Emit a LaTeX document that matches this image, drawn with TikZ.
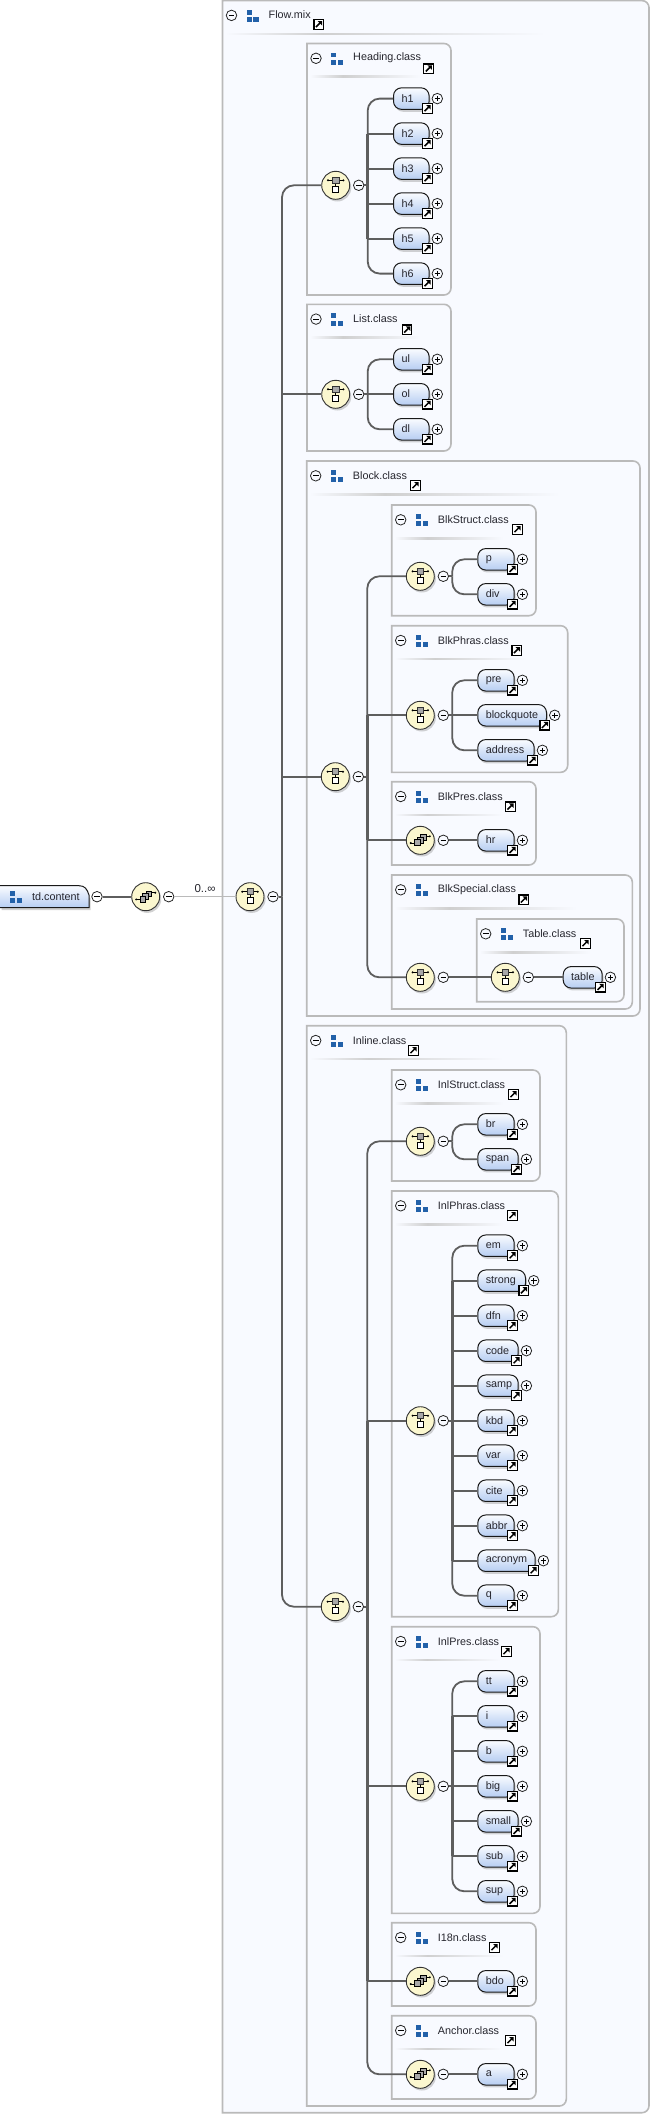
\documentclass[tikz,border=0pt]{standalone}
\usepackage{fontspec}
\setmainfont{Liberation Sans}
\usetikzlibrary{shadows}
\definecolor{flowbg}{HTML}{F8FAFF}
\definecolor{framegrey}{HTML}{BABABA}
\definecolor{conngrey}{HTML}{5E5E5E}
\definecolor{iconblue}{HTML}{2261A9}
\definecolor{symfill}{HTML}{FBF7CF}
\definecolor{eltop}{HTML}{FAFCFF}
\definecolor{elbot}{HTML}{B6CDF2}
\definecolor{inkdark}{HTML}{26262E}
\definecolor{sepgrey}{HTML}{CFCFCF}
\definecolor{glyphgrey}{HTML}{A8A8A8}
\pgfdeclarehorizontalshading{sepfade}{100bp}{color(0bp)=(flowbg); color(25bp)=(flowbg); color(40bp)=(sepgrey); color(50bp)=(sepgrey!70!flowbg); color(75bp)=(flowbg); color(100bp)=(flowbg)}
\tikzset{
  x=1pt,y=-1pt,
  frameline/.style={draw=framegrey,line width=1.6pt,fill=flowbg},
  conn/.style={draw=conngrey,line width=1.8pt},
  connrail/.style={conn,rounded corners=12pt},
  railthick/.style={draw=conngrey,line width=2.5pt},
  thickconn/.style={draw=conngrey,line width=2.2pt},
  thinconn/.style={draw=framegrey,line width=.9pt},
  ttl/.style={font=\fontsize{10.8}{12}\selectfont,text=inkdark,inner sep=0pt,anchor=west},
  ctl/.style={circle,draw=black!85,line width=.8pt,minimum size=10.5pt,inner sep=0pt},
  ctlminus/.style={ctl,path picture={\draw[black,line width=.9pt] (-2.8,0)--(2.8,0);}},
  ctlplus/.style={ctl,path picture={\draw[black,line width=.9pt] (-2.8,0)--(2.8,0) (0,-2.8)--(0,2.8);}},
  linkbox/.style={rectangle,draw=black,line width=1.2pt,fill=white,minimum size=9.6pt,inner sep=0pt,
    path picture={\draw[black,line width=1.5pt] (-2.8,2.8)--(1.5,-1.5);\fill[black] (-1.2,-3.3)--(3.3,-3.3)--(3.3,1.2)--cycle;}},
  symbase/.style={circle,draw=black!80,line width=.9pt,fill=symfill,minimum size=28pt,inner sep=0pt,
    drop shadow={shadow xshift=1.6pt,shadow yshift=-2.2pt,fill=black!35,opacity=.5}},
  seqsym/.style={symbase,path picture={
    \draw[black,line width=.8pt] (-7.7,-5)--(7.7,-5) (0,-3)--(0,1);
    \fill[black] (-7.7,-5) circle (1.1) (7.7,-5) circle (1.1);
    \filldraw[fill=glyphgrey,draw=black!80,line width=.5pt] (-3.2,-8.2)rectangle(3.2,-2);
    \filldraw[fill=white,draw=black,line width=1pt] (-3,1)rectangle(3,7.2);}},
  choicesym/.style={symbase,path picture={
    \draw[black,line width=.8pt] (-10,2.7)--(-5,2.7) (5,-4)--(10,-4);
    \fill[black] (-9.5,2.7) circle (1.1) (9.5,-4) circle (1.1);
    \filldraw[fill=glyphgrey,draw=black,line width=.6pt] (0.3,-5.7)rectangle(5.7,0);
    \filldraw[fill=glyphgrey,draw=black,line width=.6pt] (-3,-3.3)rectangle(2.6,2.7);
    \filldraw[fill=glyphgrey,draw=black,line width=.6pt] (-5.7,-0.7)rectangle(-0.3,5.3);}},
  elem/.style={rectangle,rounded corners=8pt,draw=black!90,line width=1pt,top color=eltop,bottom color=elbot,
    minimum height=21.5pt,inner ysep=0pt,inner xsep=8pt,align=left,anchor=west,
    font=\fontsize{10.8}{12}\selectfont,text=inkdark,
    drop shadow={shadow xshift=1.4pt,shadow yshift=-2.4pt,fill=black!35,opacity=.5}},
}
% class icon: three blue squares
\newcommand\clsicon[2]{%
  \fill[iconblue] (#1-6,#2-6) rectangle +(5.2,4.9);
  \fill[iconblue] (#1-6,#2+1.4) rectangle +(5.2,4.9);
  \fill[iconblue] (#1+0.8,#2+1.4) rectangle +(5.2,4.9);}
% group frame: name, L, T, R, B, title, link x, link y, separator end
\newcommand\grp[9]{%
  \draw[frameline] (#2,#3) [rounded corners=7pt] -- (#4,#3) -- (#4,#5) [sharp corners] -- (#2,#5) -- cycle;
  \node[ctlminus] (#1m) at (#2+9,#3+14.8) {};
  \clsicon{#2+30}{#3+15}
  \node[ttl] (#1t) at (#2+46,#3+14.5) {#6};
  \node[linkbox] (#1l) at (#7,#8) {};
  \shade[shading=sepfade] (#2+3,#3+32.4) rectangle (#9,#3+34);}
% compositor symbol: name, style, x, y
\newcommand\symb[4]{%
  \node[#2] (#1) at (#3,#4) {};
  \node[ctlminus] (#1m) at (#3+23,#4) {};
  \coordinate (#1b) at (#3+32,#4);}
% element: name, text, left, right, y
\newcommand\elt[5]{%
  \pgfmathsetmacro\eltfull{#4-#3}%
  \pgfmathsetmacro\elttext{#4-#3-16}%
  \node[elem,minimum width=\eltfull pt,text width=\elttext pt] (#1) at (#3,#5) {\raisebox{0.7pt}{#2}};
  \node[linkbox] (#1l) at (#4-1.3,#5+9.8) {};
  \node[ctlplus] (#1p) at (#4+8.7,#5) {};}
\newcommand\tee[2]{\draw[conn] (#1 |- #2.west) -- (#2.west);}
\newcommand\bend[2]{\draw[connrail] (#1) |- (#2.west);}
\newcommand\stub[1]{\draw[conn] (#1m.east) -- (#1b);}
\newcommand\rail[3]{\draw[railthick] (#1 |- #2.west) -- (#1 |- #3.west);}
\begin{document}
\begin{tikzpicture}
\useasboundingbox (0,0) rectangle (650,2115);
% frames
\grp{flow}{222.5}{0.6}{649}{2112.7}{Flow.mix}{318.7}{24.3}{545}
\grp{head}{307}{43.5}{451}{295}{Heading.class}{428.6}{68.7}{420}
\grp{list}{307}{304.3}{451}{451}{List.class}{407}{329.7}{420}
\grp{block}{306.7}{461}{640}{1016}{Block.class}{415.3}{485.3}{560}
\grp{bstruct}{391.7}{505}{536}{615.7}{BlkStruct.class}{517.3}{529.3}{503}
\grp{bphras}{391.7}{625.7}{567.7}{772.3}{BlkPhras.class}{516.7}{650.3}{527}
\grp{bpres}{391.7}{781.7}{536}{865}{BlkPres.class}{510.3}{806.7}{503}
\grp{bspec}{391.7}{875}{632.3}{1009}{BlkSpecial.class}{523.7}{899.7}{577}
\grp{tabl}{476.7}{919}{624}{1001.7}{Table.class}{585.3}{943.3}{590}
\grp{inl}{306.7}{1025.7}{566.3}{2106}{Inline.class}{413.3}{1050.3}{503}
\grp{istruct}{391.7}{1070}{540}{1181}{InlStruct.class}{513.3}{1094.3}{503}
\grp{iphras}{391.7}{1191}{558.3}{1616.7}{InlPhras.class}{512.3}{1215.3}{503}
\grp{ipres}{391.7}{1626.7}{540}{1913.3}{InlPres.class}{506.3}{1651.3}{500}
\grp{ieight}{391.7}{1922.7}{536}{2006}{I18n.class}{494.3}{1947.3}{503}
\grp{ianch}{391.7}{2015.7}{536}{2099}{Anchor.class}{510.3}{2040.3}{503}
% root element
\fill[black!35,opacity=.5] (1.5,889) -- (90.5,898) -- (90.5,910) -- (1.5,910) -- cycle;
\draw[draw=black!90,line width=1pt,top color=eltop,bottom color=elbot] (-1,885.7) -- (79,885.7) .. controls (85,885.7) and (87,889) .. (89,895) -- (89,907.7) -- (-1,907.7) -- cycle;
\node[inner sep=0pt,minimum width=89pt,minimum height=22pt,anchor=west] (td) at (0,896.7) {};
\clsicon{16}{897}
\node[ttl] (tdt) at (32,896.4) {td.content};
\node[ctlminus] (tdm) at (97,896.7) {};
% compositors
\symb{top}{choicesym}{145.7}{896.7}
\symb{outer}{seqsym}{250}{896.7}
\symb{shead}{seqsym}{335.7}{185.3}
\symb{slist}{seqsym}{335.7}{394.3}
\symb{sblock}{seqsym}{335.3}{776.7}
\symb{sbstruct}{seqsym}{420.3}{576.3}
\symb{sbphras}{seqsym}{420.3}{715.3}
\symb{sbpres}{choicesym}{420.3}{840.3}
\symb{sbspec}{seqsym}{420.3}{977.3}
\symb{stabl}{seqsym}{505.3}{977.3}
\symb{sinl}{seqsym}{335.3}{1606.7}
\symb{sistruct}{seqsym}{420.3}{1141.3}
\symb{siphras}{seqsym}{420.3}{1420.7}
\symb{sipres}{seqsym}{420.3}{1786.3}
\symb{sieight}{choicesym}{420.3}{1981.3}
\symb{sianch}{choicesym}{420.3}{2074.3}
% elements
\elt{hA}{h1}{393}{428.6}{98.6}
\elt{hB}{h2}{393}{428.6}{133.6}
\elt{hC}{h3}{393}{428.6}{168.6}
\elt{hD}{h4}{393}{428.6}{203.6}
\elt{hE}{h5}{393}{428.6}{238.6}
\elt{hF}{h6}{393}{428.6}{273.6}
\elt{ul}{ul}{393}{428.6}{359.3}
\elt{ol}{ol}{393}{428.6}{394.3}
\elt{dl}{dl}{393}{428.6}{429.3}
\elt{p}{p}{477.3}{513.7}{559.3}
\elt{div}{div}{477.3}{513.7}{594.3}
\elt{pre}{pre}{477.3}{513.7}{680.3}
\elt{bq}{blockquote}{477.3}{546}{715.3}
\elt{addr}{address}{477.3}{533.7}{750.3}
\elt{hr}{hr}{477.3}{513.7}{840.3}
\elt{table}{table}{562.7}{601.7}{977.3}
\elt{br}{br}{477.3}{513.7}{1124.3}
\elt{span}{span}{477.3}{517.7}{1159.3}
\elt{em}{em}{477.3}{513.7}{1245.7}
\elt{strong}{strong}{477.3}{525}{1280.7}
\elt{dfn}{dfn}{477.3}{513.7}{1315.7}
\elt{code}{code}{477.3}{517.7}{1350.7}
\elt{samp}{samp}{477.3}{517.7}{1385.7}
\elt{kbd}{kbd}{477.3}{513.7}{1420.7}
\elt{var}{var}{477.3}{513.7}{1455.7}
\elt{cite}{cite}{477.3}{513.7}{1490.7}
\elt{abbr}{abbr}{477.3}{513.7}{1525.7}
\elt{acronym}{acronym}{477.3}{534.7}{1560.7}
\elt{q}{q}{477.3}{513.7}{1595.7}
\elt{tt}{tt}{477.3}{513.7}{1681.3}
\elt{i}{i}{477.3}{513.7}{1716.3}
\elt{b}{b}{477.3}{513.7}{1751.3}
\elt{big}{big}{477.3}{513.7}{1786.3}
\elt{small}{small}{477.3}{517.7}{1821.3}
\elt{sub}{sub}{477.3}{513.7}{1856.3}
\elt{sup}{sup}{477.3}{513.7}{1891.3}
\elt{bdo}{bdo}{477.3}{513.7}{1981.3}
\elt{a}{a}{477.3}{513.7}{2074.3}
% cardinality label
\node[ttl,anchor=center,font=\fontsize{11.5}{12}\selectfont] (card) at (205,888.6) {0..∞};
% connectors
\draw[thickconn] (tdm.east) -- (top.west);
\draw[thinconn] (topm.east) -- (outer.west);
\stub{outer}
\bend{outerb}{shead}
\tee{outerb}{slist}
\tee{outerb}{sblock}
\bend{outerb}{sinl}
\rail{outerb}{slist}{sblock}
\stub{shead}
\bend{sheadb}{hA}
\tee{sheadb}{hB}
\tee{sheadb}{hC}
\tee{sheadb}{hD}
\tee{sheadb}{hE}
\bend{sheadb}{hF}
\rail{sheadb}{hB}{hE}
\stub{slist}
\bend{slistb}{ul}
\tee{slistb}{ol}
\bend{slistb}{dl}
\stub{sblock}
\bend{sblockb}{sbstruct}
\tee{sblockb}{sbphras}
\tee{sblockb}{sbpres}
\bend{sblockb}{sbspec}
\rail{sblockb}{sbphras}{sbpres}
\stub{sbstruct}
\bend{sbstructb}{p}
\bend{sbstructb}{div}
\stub{sbphras}
\bend{sbphrasb}{pre}
\tee{sbphrasb}{bq}
\bend{sbphrasb}{addr}
\draw[conn] (sbpresm.east) -- (hr.west);
\draw[conn] (sbspecm.east) -- (stabl.west);
\draw[conn] (stablm.east) -- (table.west);
\stub{sinl}
\bend{sinlb}{sistruct}
\tee{sinlb}{siphras}
\tee{sinlb}{sipres}
\tee{sinlb}{sieight}
\bend{sinlb}{sianch}
\rail{sinlb}{siphras}{sieight}
\stub{sistruct}
\bend{sistructb}{br}
\bend{sistructb}{span}
\stub{siphras}
\bend{siphrasb}{em}
\tee{siphrasb}{strong}
\tee{siphrasb}{dfn}
\tee{siphrasb}{code}
\tee{siphrasb}{samp}
\tee{siphrasb}{kbd}
\tee{siphrasb}{var}
\tee{siphrasb}{cite}
\tee{siphrasb}{abbr}
\tee{siphrasb}{acronym}
\bend{siphrasb}{q}
\rail{siphrasb}{strong}{acronym}
\stub{sipres}
\bend{sipresb}{tt}
\tee{sipresb}{i}
\tee{sipresb}{b}
\tee{sipresb}{big}
\tee{sipresb}{small}
\tee{sipresb}{sub}
\bend{sipresb}{sup}
\rail{sipresb}{i}{sub}
\draw[conn] (sieightm.east) -- (bdo.west);
\draw[conn] (sianchm.east) -- (a.west);
\end{tikzpicture}
\end{document}
